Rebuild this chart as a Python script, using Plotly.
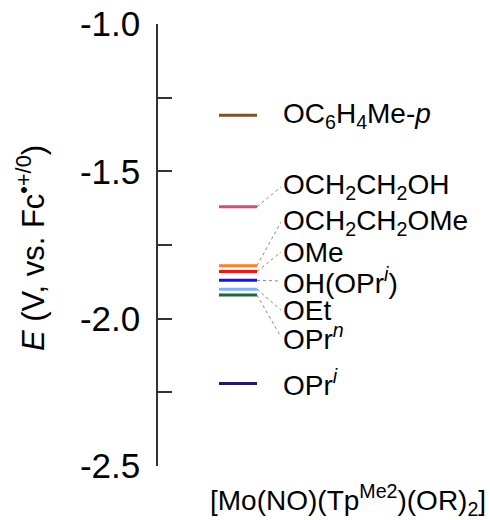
import plotly.graph_objects as go

# ---- data ----
ligands = ["OC<sub>6</sub>H<sub>4</sub>Me-<i>p</i>", "OCH<sub>2</sub>CH<sub>2</sub>OH",
           "OCH<sub>2</sub>CH<sub>2</sub>OMe", "OMe", "OH(OPr<sup><i>i</i></sup>)",
           "OEt", "OPr<sup><i>n</i></sup>", "OPr<sup><i>i</i></sup>"]
potentials = [-1.31, -1.62, -1.82, -1.84, -1.87, -1.90, -1.92, -2.22]
tick_values = [-2.5, -2.25, -2.0, -1.75, -1.5, -1.25, -1.0]
tick_labels = ["-2.5", "", "-2.0", "", "-1.5", "", "-1.0"]

# ---- layout / style ----
colors = ["#7f4f1f", "#d64a7e", "#ff8020", "#ff1010", "#1414e6", "#80b0ff", "#1b6b3a", "#1a1a6e"]
label_y = [-1.31, -1.553, -1.672, -1.774, -1.872, -1.971, -2.062, -2.22]
connect = [False, True, True, True, True, True, True, False]
x0, x1, xt = 61, 99, 123  # line start/end, label start (px from axis)

FONT = "Liberation Sans, Arial, Helvetica, sans-serif"

fig = go.Figure()
for name, v, c, ly, con in zip(ligands, potentials, colors, label_y, connect):
    fig.add_trace(go.Scatter(x=[x0, x1], y=[v, v], mode="lines",
                             line=dict(color=c, width=3), hoverinfo="skip", showlegend=False))
    if con:
        fig.add_trace(go.Scatter(x=[x1, xt], y=[v, ly], mode="lines",
                                 line=dict(color="#888888", width=1, dash="dot"),
                                 hoverinfo="skip", showlegend=False))
    fig.add_annotation(x=xt, y=ly, text=name, showarrow=False, xanchor="left",
                       yanchor="middle", font=dict(family=FONT, size=28, color="black"))

fig.add_annotation(xref="paper", yref="paper", x=0, y=0.5, xshift=-127, yshift=-3,
                   text="<i>E</i> (V, vs. Fc<sup>•+/0</sup>)", textangle=-90,
                   showarrow=False, xanchor="center", yanchor="middle",
                   font=dict(family=FONT, size=31, color="black"))
fig.add_annotation(x=190, yref="paper", y=0, yshift=-34,
                   text="[Mo(NO)(Tp<sup>Me2</sup>)(OR)<sub>2</sub>]",
                   showarrow=False, xanchor="center", yanchor="middle",
                   font=dict(family=FONT, size=28, color="black"))

fig.update_layout(
    width=490, height=520,
    margin=dict(l=158, r=0, t=24, b=54, autoexpand=False),
    plot_bgcolor="white", paper_bgcolor="white",
    xaxis=dict(range=[0, 332], visible=False, fixedrange=True, automargin=False),
    yaxis=dict(range=[-2.5, -1.0], tickvals=tick_values, ticktext=tick_labels,
               ticks="inside", ticklen=14, tickwidth=1.5, tickcolor="#333333",
               showline=True, linecolor="#333333", linewidth=1.5, automargin=False,
               showgrid=False, zeroline=False, ticklabelstandoff=9,
               tickfont=dict(family=FONT, size=35, color="black")),
)

fig.write_html("out.html", config={"displayModeBar": False},
               post_script="document.body.style.margin='0';document.body.style.overflow='hidden';")
